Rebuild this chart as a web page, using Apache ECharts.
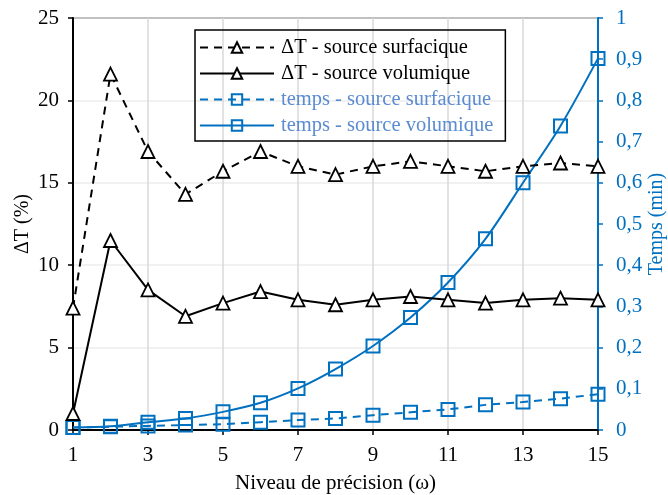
<!DOCTYPE html>
<html>
<head>
<meta charset="utf-8">
<script src="https://cdn.jsdelivr.net/npm/echarts@6/dist/echarts.min.js"></script>
<style>
  html, body { margin: 0; padding: 0; background: #fff; }
  #chart { width: 668px; height: 495px; }
</style>
</head>
<body>
<div id="chart"></div>
<script>
// niveau de précision (omega)
const niveaux = [1, 2, 3, 4, 5, 6, 7, 8, 9, 10, 11, 12, 13, 14, 15];
// ΔT (%)
const dtSurfacique = [7.4, 21.6, 16.9, 14.3, 15.7, 16.9, 16.0, 15.5, 16.0, 16.3, 16.0, 15.7, 16.0, 16.2, 16.0];
const dtVolumique = [1.0, 11.5, 8.5, 6.9, 7.7, 8.4, 7.9, 7.6, 7.9, 8.1, 7.9, 7.7, 7.9, 8.0, 7.9];
// temps (min)
const tempsSurfacique = [0.006, 0.008, 0.010, 0.012, 0.014, 0.019, 0.024, 0.028, 0.036, 0.043, 0.050, 0.061, 0.068, 0.076, 0.087];
const tempsVolumique = [0.006, 0.009, 0.019, 0.028, 0.044, 0.066, 0.101, 0.148, 0.204, 0.273, 0.358, 0.464, 0.600, 0.738, 0.902];

const FONT = '"Liberation Serif", "DejaVu Serif", serif';
const BLUE = '#0070C0';
const BLUE_TEXT = '#5B8BD0';

const pairs = arr => niveaux.map((x, i) => [x, arr[i]]);

const chart = echarts.init(document.getElementById('chart'), null, { renderer: 'canvas' });

const option = {
  animation: false,
  textStyle: { fontFamily: FONT },
  grid: {
    left: 73, right: 70, top: 18, bottom: 65,
    containLabel: false,
    outerBoundsMode: 'none',
    show: true, borderColor: '#000', borderWidth: 1.5
  },
  legend: {
    orient: 'vertical',
    left: 195, top: 30,
    padding: [7, 12, 5, 4],
    itemGap: 5,
    itemWidth: 74,
    itemHeight: 13,
    borderColor: '#000',
    borderWidth: 1.5,
    textStyle: { fontFamily: FONT, fontSize: 20.5, color: '#000', padding: [0, 0, 0, 2] },
    data: [
      { name: 'ΔT - source surfacique' },
      { name: 'ΔT - source volumique' },
      { name: 'temps - source surfacique', textStyle: { color: BLUE_TEXT } },
      { name: 'temps - source volumique', textStyle: { color: BLUE_TEXT } }
    ]
  },
  xAxis: {
    type: 'value',
    min: 1, max: 15, interval: 2,
    name: 'Niveau de précision (ω)',
    nameLocation: 'middle',
    nameGap: 43,
    nameMoveOverlap: false,
    nameTextStyle: { fontFamily: FONT, fontSize: 21, color: '#000' },
    axisLine: { lineStyle: { color: '#000', width: 2 } },
    axisTick: { show: true, inside: false, length: 5, lineStyle: { color: '#000', width: 1.5 } },
    axisLabel: { fontFamily: FONT, fontSize: 21, color: '#000', margin: 15 },
    splitLine: { show: true, lineStyle: { color: '#d9d9d9', width: 1.5 } }
  },
  yAxis: [
    {
      type: 'value',
      min: 0, max: 25, interval: 5,
      name: 'ΔT (%)',
      nameLocation: 'middle',
      nameGap: 40,
      nameMoveOverlap: false,
      nameRotate: 90,
      nameTextStyle: { fontFamily: FONT, fontSize: 20, color: '#000' },
      axisLine: { show: true, lineStyle: { color: '#000', width: 2 } },
      axisTick: { show: true, inside: false, length: 5, lineStyle: { color: '#000', width: 1.5 } },
      axisLabel: { fontFamily: FONT, fontSize: 21, color: '#000', margin: 14 },
      splitLine: { show: true, lineStyle: { color: '#ececec', width: 1.5 } }
    },
    {
      type: 'value',
      position: 'right',
      min: 0, max: 1, interval: 0.1,
      name: 'Temps (min)',
      nameLocation: 'middle',
      nameGap: 49,
      nameMoveOverlap: false,
      nameRotate: 90,
      nameTextStyle: { fontFamily: FONT, fontSize: 20, color: BLUE },
      axisLine: { show: true, lineStyle: { color: BLUE, width: 2 } },
      axisTick: { show: true, inside: false, length: 5, lineStyle: { color: BLUE, width: 1.5 } },
      axisLabel: {
        fontFamily: FONT, fontSize: 21, color: BLUE, margin: 18,
        formatter: v => String(Math.round(v * 10) / 10).replace('.', ',')
      },
      splitLine: { show: false }
    }
  ],
  series: [
    {
      name: 'ΔT - source surfacique',
      type: 'line',
      yAxisIndex: 0,
      data: pairs(dtSurfacique),
      symbol: 'triangle',
      symbolSize: 13,
      lineStyle: { color: '#000', width: 2, type: [8, 6] },
      itemStyle: { color: '#fff', borderColor: '#000', borderWidth: 1.8 },
      z: 3
    },
    {
      name: 'ΔT - source volumique',
      type: 'line',
      yAxisIndex: 0,
      data: pairs(dtVolumique),
      symbol: 'triangle',
      symbolSize: 13,
      lineStyle: { color: '#000', width: 2 },
      itemStyle: { color: '#fff', borderColor: '#000', borderWidth: 1.8 },
      z: 3
    },
    {
      name: 'temps - source surfacique',
      type: 'line',
      yAxisIndex: 1,
      data: pairs(tempsSurfacique),
      symbol: 'rect',
      symbolSize: 13,
      lineStyle: { color: BLUE, width: 2, type: [8, 6] },
      itemStyle: { color: 'rgba(255,255,255,0)', borderColor: BLUE, borderWidth: 2 },
      z: 2
    },
    {
      name: 'temps - source volumique',
      type: 'line',
      yAxisIndex: 1,
      data: pairs(tempsVolumique),
      smooth: 0.3,
      symbol: 'rect',
      symbolSize: 13,
      lineStyle: { color: BLUE, width: 2 },
      itemStyle: { color: 'rgba(255,255,255,0)', borderColor: BLUE, borderWidth: 2 },
      z: 2
    }
  ]
};

chart.setOption(option);
</script>
</body>
</html>
